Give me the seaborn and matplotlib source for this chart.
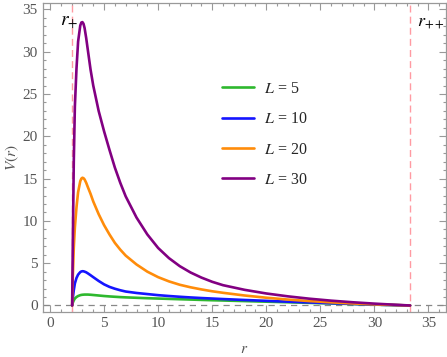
import numpy as np
import pandas as pd
import matplotlib
matplotlib.use("Agg")
import matplotlib.pyplot as plt
from matplotlib.ticker import MultipleLocator
import seaborn as sns

# values
r = [2.05, 2.1, 2.2, 2.3, 2.45, 2.6, 2.8, 2.9, 3.0, 3.1, 3.2, 3.35, 3.5, 3.75, 4.0,
     4.5, 5.0, 5.5, 6.0, 6.5, 7.0, 8.0, 9.0, 10.0, 11.0, 12.0, 13.0, 14.0, 15.0, 16.0,
     18.0, 20.0, 22.0, 24.0, 26.0, 28.0, 30.0, 32.0, 33.3]
v_l5 = [0, 0.3, 0.6, 0.82, 1.0, 1.12, 1.22, 1.25, 1.27, 1.28, 1.29, 1.29, 1.29, 1.27,
        1.24, 1.18, 1.12, 1.07, 1.03, 0.99, 0.96, 0.91, 0.86, 0.82, 0.78, 0.74, 0.7,
        0.66, 0.62, 0.59, 0.52, 0.45, 0.38, 0.31, 0.24, 0.17, 0.1, 0.04, 0]
v_l10 = [0, 0.8, 1.8, 2.6, 3.25, 3.65, 3.95, 4.02, 4.05, 4.04, 4.0, 3.92, 3.8, 3.58,
         3.35, 2.9, 2.5, 2.2, 1.98, 1.8, 1.65, 1.48, 1.35, 1.22, 1.12, 1.03, 0.95,
         0.88, 0.82, 0.76, 0.65, 0.55, 0.45, 0.36, 0.27, 0.19, 0.11, 0.04, 0]
v_l20 = [0, 3.0, 6.8, 9.2, 11.6, 13.4, 14.7, 15.0, 15.1, 15.05, 14.9, 14.5, 14.0, 13.2,
         12.3, 10.8, 9.5, 8.4, 7.4, 6.6, 5.9, 4.85, 4.0, 3.35, 2.85, 2.45, 2.15, 1.9,
         1.68, 1.5, 1.18, 0.92, 0.7, 0.52, 0.37, 0.24, 0.13, 0.05, 0]
v_l30 = [0, 6.0, 17.0, 23.5, 28.0, 31.2, 33.1, 33.45, 33.5, 33.3, 32.8, 31.6, 30.2,
         27.9, 26.0, 23.0, 20.6, 18.4, 16.3, 14.5, 12.9, 10.4, 8.4, 6.8, 5.6, 4.65, 3.9,
         3.3, 2.8, 2.4, 1.85, 1.42, 1.08, 0.8, 0.57, 0.38, 0.22, 0.08, 0]
labels = ["$L$ = 5", "$L$ = 10", "$L$ = 20", "$L$ = 30"]
colors = ["#2eb82e", "#1515ff", "#ff8c0a", "#820082"]
r_plus = 2.05
r_pp = 33.3

df = pd.DataFrame({
    "r": r * 4,
    "V": v_l5 + v_l10 + v_l20 + v_l30,
    "L": [lab for lab in labels for _ in r],
})

sns.set_style("ticks")
plt.rcParams["font.family"] = ["Liberation Serif", "DejaVu Serif"]
plt.rcParams["mathtext.fontset"] = "stix"

fig = plt.figure(figsize=(4.47, 3.57), dpi=100)
ax = fig.add_axes([0.0955, 0.127, 0.9025, 0.8646])

ax.axhline(0, color="#888888", lw=0.9, ls=(0, (5, 4)), zorder=1)
ax.axvline(r_plus, color="#ff9aa2", lw=1.0, ls=(0, (5, 3)), zorder=1)
ax.axvline(r_pp, color="#ff9aa2", lw=1.0, ls=(0, (5, 3)), zorder=1)

sns.lineplot(data=df, x="r", y="V", hue="L", palette=colors, lw=1.9, ax=ax,
             sort=False, estimator=None, zorder=3)

ax.set_xlim(-0.675, 36.63)
ax.set_ylim(-0.73, 35.76)
ax.xaxis.set_major_locator(MultipleLocator(5))
ax.xaxis.set_minor_locator(MultipleLocator(1))
ax.yaxis.set_major_locator(MultipleLocator(5))
ax.yaxis.set_minor_locator(MultipleLocator(1))
ax.tick_params(which="both", direction="in", top=True, right=True, color="#999999",
               labelcolor="#555555", labelsize=11, width=0.8)
ax.tick_params(which="major", length=5)
ax.tick_params(which="minor", length=2.5)
for s in ax.spines.values():
    s.set_color("#999999")
    s.set_linewidth(0.9)

ax.set_xlabel("$r$", fontsize=11, color="#555555", labelpad=10)
ax.set_ylabel("$V(r)$", fontsize=11, color="#555555", labelpad=1)

ax.text(0.9, 33.4, "$r_{+}$", fontsize=14, color="black", va="center")
ax.text(33.95, 33.4, "$r_{++}$", fontsize=13, color="black", va="center")

ax.legend(frameon=False, loc="upper left", bbox_to_anchor=(0.445, 0.748),
          borderaxespad=0, borderpad=0, handlelength=2.0, handletextpad=0.6,
          labelspacing=0.9, fontsize=11.5)

fig.savefig("out.png", dpi=100)
